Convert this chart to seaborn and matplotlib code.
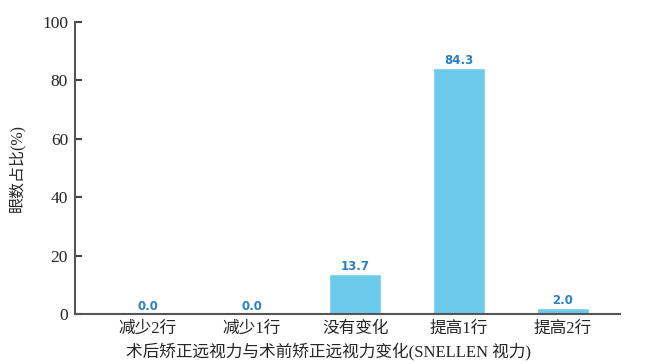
import matplotlib
matplotlib.use("Agg")
import matplotlib.pyplot as plt
import seaborn as sns
import pandas as pd

categories = ["减少2行", "减少1行", "没有变化", "提高1行", "提高2行"]
values = [0.0, 0.0, 13.7, 84.3, 2.0]
y_ticks = [0, 20, 40, 60, 80, 100]

sns.set_style("white")
plt.rcParams["font.family"] = ["Liberation Serif", "Noto Sans CJK SC"]

df = pd.DataFrame({"类别": categories, "占比": values})

fig = plt.figure(figsize=(6.49, 3.64), dpi=100)
ax = fig.add_axes([75 / 649, 1 - 314 / 364, 545 / 649, 292 / 364])

sns.barplot(data=df, x="类别", y="占比", color="#6ccbea", saturation=1,
            width=0.5, ax=ax)

for i, v in enumerate(values):
    ax.text(i, v + 0.4, f"{v:.1f}", ha="center", va="bottom",
            fontsize=8.5, fontweight="bold", color="#2a80c0",
            family=["DejaVu Sans"])

ax.set_xlim(-0.7, 4.55)
ax.set_ylim(0, 100)
ax.set_yticks(y_ticks)
ax.set_yticklabels([str(t) for t in y_ticks], fontsize=12.5)
ax.tick_params(axis="y", left=True, direction="in", length=5, width=1.5,
               color="#444444", pad=5)
ax.tick_params(axis="x", bottom=False, length=0, pad=5, labelsize=12)

for s in ["top", "right"]:
    ax.spines[s].set_visible(False)
for s in ["left", "bottom"]:
    ax.spines[s].set_color("#555555")
    ax.spines[s].set_linewidth(1.5)

ax.set_xlabel("术后矫正远视力与术前矫正远视力变化(SNELLEN 视力)", fontsize=12)
ax.xaxis.set_label_coords(0.466, -0.098)
ax.set_ylabel("眼数占比(%)", fontsize=11.5, labelpad=12)

fig.savefig("out.png", dpi=100)
